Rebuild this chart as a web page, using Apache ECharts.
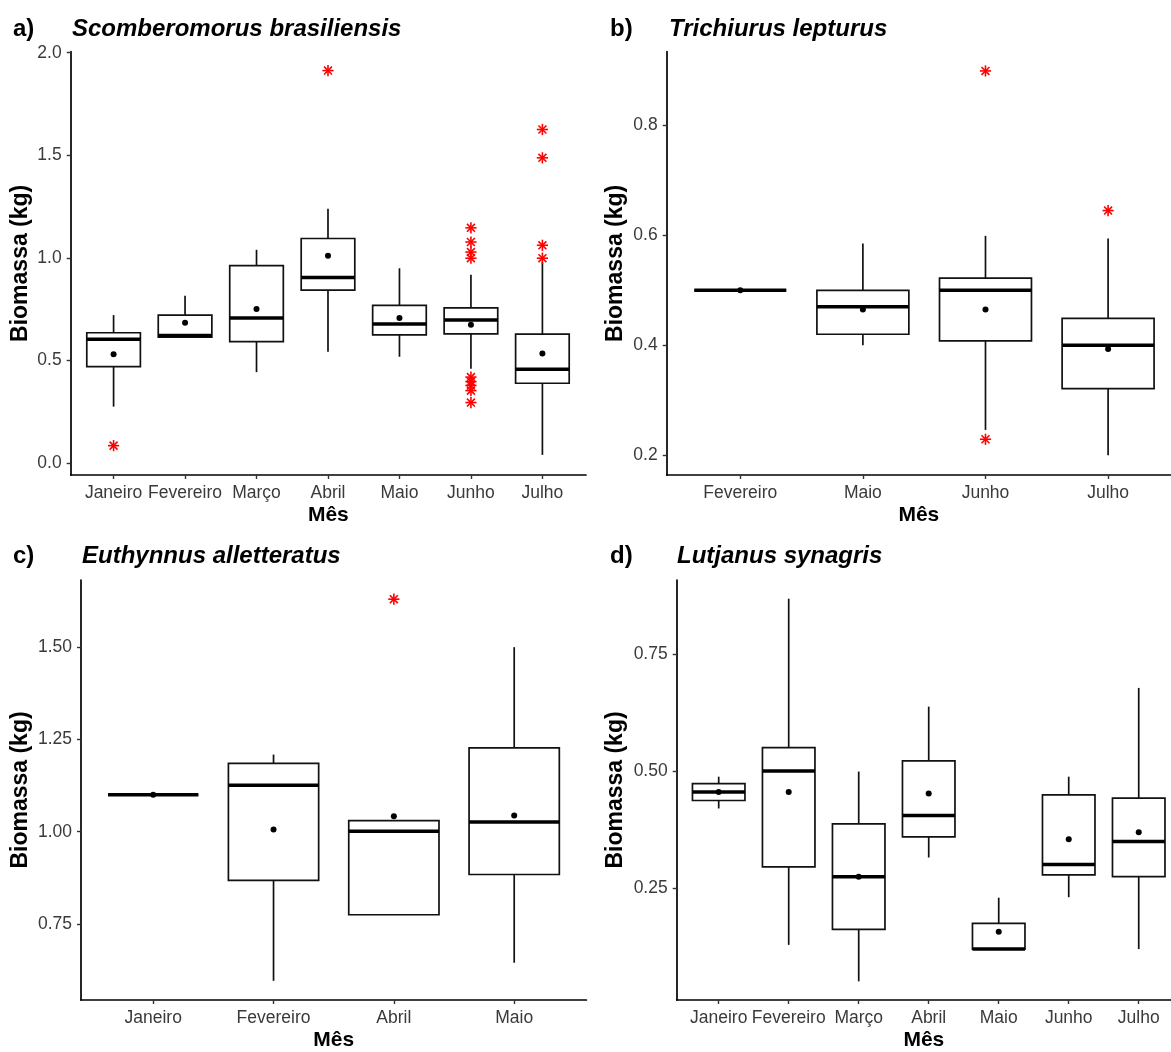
<!DOCTYPE html>
<html>
<head>
<meta charset="utf-8">
<script src="https://cdn.jsdelivr.net/npm/echarts@6/dist/echarts.min.js"></script>
<style>
html,body{margin:0;padding:0;background:#fff;}
#chart{width:1171px;height:1052px;}
</style>
</head>
<body>
<div id="chart"></div>
<script>
// ---------- Panel a: Scomberomorus brasiliensis ----------
const catsA = ['Janeiro','Fevereiro','Março','Abril','Maio','Junho','Julho'];
const lowA  = [0.276, 0.610, 0.444, 0.543, 0.519, 0.461, 0.041];
const q1A   = [0.471, 0.614, 0.593, 0.844, 0.626, 0.630, 0.390];
const medA  = [0.604, 0.622, 0.708, 0.905, 0.678, 0.698, 0.458];
const q3A   = [0.636, 0.722, 0.963, 1.095, 0.769, 0.757, 0.629];
const highA = [0.722, 0.816, 1.040, 1.240, 0.950, 0.918, 0.980];
const meanA = [0.531, 0.685, 0.752, 1.011, 0.708, 0.675, 0.535];
const outA  = [[1,0.086],[4,1.913],[6,1.147],[6,1.078],[6,1.029],[6,0.999],[6,0.420],[6,0.398],[6,0.379],[6,0.354],[6,0.296],[7,1.626],[7,1.488],[7,1.062],[7,0.999]];
const yTicksA = [0.0, 0.5, 1.0, 1.5, 2.0];

// ---------- Panel b: Trichiurus lepturus ----------
const catsB = ['Fevereiro','Maio','Junho','Julho'];
const lowB  = [0.500, 0.400, 0.246, 0.200];
const q1B   = [0.500, 0.420, 0.408, 0.321];
const medB  = [0.500, 0.470, 0.500, 0.400];
const q3B   = [0.500, 0.500, 0.522, 0.449];
const highB = [0.500, 0.585, 0.599, 0.594];
const meanB = [0.500, 0.465, 0.465, 0.393];
const outB  = [[3,0.899],[3,0.229],[4,0.645]];
const yTicksB = [0.2, 0.4, 0.6, 0.8];

// ---------- Panel c: Euthynnus alletteratus ----------
const catsC = ['Janeiro','Fevereiro','Abril','Maio'];
const lowC  = [1.100, 0.596, 0.775, 0.645];
const q1C   = [1.100, 0.868, 0.775, 0.884];
const medC  = [1.100, 1.126, 1.001, 1.026];
const q3C   = [1.100, 1.185, 1.030, 1.227];
const highC = [1.100, 1.209, 1.030, 1.500];
const meanC = [1.100, 1.006, 1.042, 1.044];
const outC  = [[3,1.630]];
const yTicksC = [0.75, 1.00, 1.25, 1.50];

// ---------- Panel d: Lutjanus synagris ----------
const catsD = ['Janeiro','Fevereiro','Março','Abril','Maio','Junho','Julho'];
const lowD  = [0.420, 0.128, 0.050, 0.315, 0.119, 0.230, 0.119];
const q1D   = [0.437, 0.295, 0.161, 0.359, 0.119, 0.278, 0.274];
const medD  = [0.455, 0.500, 0.274, 0.405, 0.119, 0.300, 0.349];
const q3D   = [0.473, 0.550, 0.387, 0.522, 0.174, 0.449, 0.442];
const highD = [0.488, 0.869, 0.499, 0.638, 0.229, 0.488, 0.678];
const meanD = [0.455, 0.455, 0.274, 0.452, 0.156, 0.354, 0.369];
const outD  = [];
const yTicksD = [0.25, 0.50, 0.75];

const titles = ['Scomberomorus brasiliensis','Trichiurus lepturus','Euthynnus alletteratus','Lutjanus synagris'];
const tags = ['a)','b)','c)','d)'];

const FONT = 'Liberation Sans, Arial, sans-serif';

function boxData(lo,q1,me,q3,hi,mn){
  return lo.map((v,i)=>[i+1, lo[i], q1[i], me[i], q3[i], hi[i], mn[i]]);
}

function renderBox(params, api){
  const x = api.value(0);
  const pLow = api.coord([x, api.value(1)]);
  const pQ1 = api.coord([x, api.value(2)]);
  const pMed = api.coord([x, api.value(3)]);
  const pQ3 = api.coord([x, api.value(4)]);
  const pHigh = api.coord([x, api.value(5)]);
  const pMean = api.coord([x, api.value(6)]);
  const hw = api.size([0.75, 0])[0] / 2;
  const cx = pMed[0];
  const stroke = '#111';
  return {
    type: 'group',
    children: [
      {type:'line', shape:{x1:cx, y1:pHigh[1], x2:cx, y2:pQ3[1]}, style:{stroke:stroke, lineWidth:1.7}},
      {type:'line', shape:{x1:cx, y1:pQ1[1], x2:cx, y2:pLow[1]}, style:{stroke:stroke, lineWidth:1.7}},
      {type:'rect', shape:{x:cx-hw, y:pQ3[1], width:2*hw, height:pQ1[1]-pQ3[1]}, style:{fill:'#fff', stroke:stroke, lineWidth:1.7}},
      {type:'line', shape:{x1:cx-hw, y1:pMed[1], x2:cx+hw, y2:pMed[1]}, style:{stroke:'#000', lineWidth:3.5}},
      {type:'circle', shape:{cx:cx, cy:pMean[1], r:3}, style:{fill:'#000'}}
    ]
  };
}

function renderStar(params, api){
  const p = api.coord([api.value(0), api.value(1)]);
  const r = 5.6;
  const d = r * Math.SQRT1_2;
  const st = {stroke:'#FF0000', lineWidth:1.6};
  return {
    type:'group',
    children:[
      {type:'line', shape:{x1:p[0]-r, y1:p[1], x2:p[0]+r, y2:p[1]}, style:st},
      {type:'line', shape:{x1:p[0], y1:p[1]-r, x2:p[0], y2:p[1]+r}, style:st},
      {type:'line', shape:{x1:p[0]-d, y1:p[1]-d, x2:p[0]+d, y2:p[1]+d}, style:st},
      {type:'line', shape:{x1:p[0]-d, y1:p[1]+d, x2:p[0]+d, y2:p[1]-d}, style:st}
    ]
  };
}

const grids = [
  {left:70.7, top:51.7, width:515.3, height:423.3},
  {left:666.7, top:51.7, width:504.3, height:423.3},
  {left:81, top:580, width:505.4, height:423.3},
  {left:676.7, top:580, width:494.3, height:423.3}
];
const xMax = [7.61, 4.513, 4.6, 7.461];
const yRange = [[-0.057, 2.005],[0.164, 0.934],[0.544, 1.682],[0.010, 0.909]];
const catsAll = [catsA, catsB, catsC, catsD];
const yTicksAll = [yTicksA, yTicksB, yTicksC, yTicksD];
const yDigits = [1, 1, 2, 2];
const yNameGap = [39, 40, 49, 50];
const boxesAll = [
  boxData(lowA,q1A,medA,q3A,highA,meanA),
  boxData(lowB,q1B,medB,q3B,highB,meanB),
  boxData(lowC,q1C,medC,q3C,highC,meanC),
  boxData(lowD,q1D,medD,q3D,highD,meanD)
];
const outAll = [outA, outB, outC, outD];

const xAxes = [], yAxes = [], series = [], titleArr = [];
const tagPos = [[13,17],[610,17],[13,544],[610,544]];
const titlePos = [[72,17],[669,17],[82,544],[677,544]];

for (let k=0;k<4;k++){
  const cats = catsAll[k];
  const xt = cats.map((c,i)=>i+1);
  xAxes.push({
    gridIndex:k, type:'value', min:0.4, max:xMax[k],
    axisLine:{show:true, onZero:false, lineStyle:{color:'#000', width:1.7}},
    axisTick:{show:true, length:4, customValues:xt, lineStyle:{color:'#333', width:1.4}},
    axisLabel:{customValues:xt, margin:9, color:'#3a3a3a', fontSize:17.5, fontFamily:FONT,
      formatter:(v)=>cats[Math.round(v)-1]},
    splitLine:{show:false},
    name:'Mês', nameLocation:'middle', nameGap:30,
    nameTextStyle:{fontSize:21, fontWeight:'bold', color:'#000', fontFamily:FONT}
  });
  const yt = yTicksAll[k];
  const dg = yDigits[k];
  yAxes.push({
    gridIndex:k, type:'value', min:yRange[k][0], max:yRange[k][1],
    axisLine:{show:true, onZero:false, lineStyle:{color:'#000', width:1.7}},
    axisTick:{show:true, length:4, customValues:yt, lineStyle:{color:'#333', width:1.4}},
    axisLabel:{customValues:yt, margin:9, color:'#3a3a3a', fontSize:17.5, fontFamily:FONT,
      formatter:(v)=>Number(v).toFixed(dg)},
    splitLine:{show:false},
    name:'Biomassa (kg)', nameLocation:'middle', nameGap:yNameGap[k],
    nameTextStyle:{fontSize:23, fontWeight:'bold', color:'#000', fontFamily:FONT}
  });
  series.push({
    type:'custom', xAxisIndex:k, yAxisIndex:k, renderItem:renderBox,
    data:boxesAll[k], clip:false, silent:true, z:2
  });
  series.push({
    type:'custom', xAxisIndex:k, yAxisIndex:k, renderItem:renderStar,
    data:outAll[k], clip:false, silent:true, z:3
  });
  titleArr.push({text:tags[k], left:tagPos[k][0], top:tagPos[k][1], padding:0,
    textStyle:{fontSize:24, fontWeight:'bold', color:'#000', fontFamily:FONT}});
  titleArr.push({text:titles[k], left:titlePos[k][0], top:titlePos[k][1], padding:0,
    textStyle:{fontSize:24, fontWeight:'bold', fontStyle:'italic', color:'#000', fontFamily:FONT}});
}

const chart = echarts.init(document.getElementById('chart'), null, {renderer:'canvas'});
chart.setOption({
  backgroundColor:'#fff',
  animation:false,
  title:titleArr,
  grid:grids,
  xAxis:xAxes,
  yAxis:yAxes,
  series:series
});
</script>
</body>
</html>
